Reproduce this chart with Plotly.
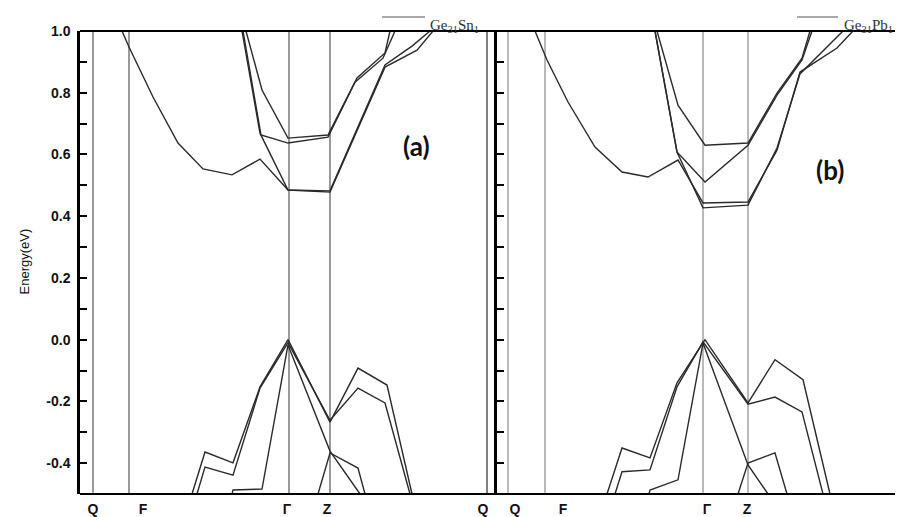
import plotly.graph_objects as go

W, H = 903, 517

# ---------------- data ----------------
kpoint_labels = ["Q", "F", "Γ", "Z", "Q"]

# panel (a) Ge31Sn1 : high-symmetry positions and label positions (k-path units)
a_sym_k = [0, 36, 196, 237, 394]
a_label_k = [0, 50, 194, 234, 390]
# panel (b) Ge31Pb1
b_sym_k = [0, 37, 195, 240, 395]
b_label_k = [7, 55, 199, 239, 395]

# conduction bands, panel (a)
a_c1_k = [29, 36, 60, 85, 110, 139, 167, 195, 237, 292, 324, 340]
a_c1_E = [1.0, 0.948, 0.786, 0.637, 0.553, 0.534, 0.585, 0.485, 0.478, 0.883, 0.938, 1.0]
a_c2_k = [149, 167, 195, 237, 292, 319, 337]
a_c2_E = [1.0, 0.669, 0.485, 0.482, 0.890, 0.951, 1.0]
a_c3_k = [153, 169, 195, 235, 264, 292, 297]
a_c3_E = [1.0, 0.809, 0.653, 0.663, 0.848, 0.929, 1.0]
a_c4_k = [150, 168, 195, 235, 262, 290, 302]
a_c4_E = [1.0, 0.663, 0.637, 0.656, 0.834, 0.912, 1.0]
# valence bands, panel (a)
a_v1_k = [99, 112, 140, 167, 195, 237, 265, 294, 319]
a_v1_E = [-0.5, -0.364, -0.399, -0.153, 0.0, -0.267, -0.092, -0.147, -0.5]
a_v2_k = [104, 112, 140, 167, 195, 237, 265, 292, 317]
a_v2_E = [-0.5, -0.413, -0.439, -0.157, -0.01, -0.261, -0.157, -0.205, -0.5]
a_v3_k = [139, 140, 169, 195, 237, 267]
a_v3_E = [-0.5, -0.487, -0.484, -0.017, -0.361, -0.5]
a_v4_k = [225, 237, 265, 272]
a_v4_E = [-0.5, -0.367, -0.416, -0.5]

# conduction bands, panel (b)
b_c1_k = [27, 39, 60, 87, 114, 140, 170, 195, 240, 269, 292, 329, 345]
b_c1_E = [1.0, 0.906, 0.770, 0.624, 0.543, 0.527, 0.582, 0.443, 0.446, 0.614, 0.867, 0.945, 1.0]
b_c2_k = [147, 169, 195, 240, 269, 292, 335]
b_c2_E = [1.0, 0.608, 0.427, 0.436, 0.621, 0.861, 1.0]
b_c3_k = [149, 170, 197, 240, 269, 294, 302]
b_c3_E = [1.0, 0.760, 0.630, 0.637, 0.799, 0.912, 1.0]
b_c4_k = [147, 169, 197, 240, 269, 294, 304]
b_c4_E = [1.0, 0.608, 0.511, 0.630, 0.792, 0.906, 1.0]
# valence bands, panel (b)
b_v1_k = [99, 114, 142, 169, 197, 240, 267, 295, 322]
b_v1_E = [-0.5, -0.351, -0.383, -0.140, 0.0, -0.205, -0.065, -0.130, -0.5]
b_v2_k = [107, 114, 142, 169, 195, 240, 267, 294, 315]
b_v2_E = [-0.5, -0.428, -0.422, -0.153, -0.007, -0.209, -0.186, -0.234, -0.5]
b_v3_k = [141, 142, 170, 195, 240, 260]
b_v3_E = [-0.5, -0.487, -0.454, -0.011, -0.406, -0.5]
b_v4_k = [230, 240, 267, 279]
b_v4_E = [-0.5, -0.400, -0.367, -0.5]

y_ticks = [-0.4, -0.2, 0.0, 0.2, 0.4, 0.6, 0.8, 1.0]
y_ticktext = ["-0.4", "-0.2", "0.0", "0.2", "0.4", "0.6", "0.8", "1.0"]

# ---------------- figure ----------------
OFF = 8  # page body margin offset


def px(x):
    return (x - OFF) / W


def py(y):
    return 1 - (y - OFF) / H


BAND = dict(color="#2a2a2a", width=1.4)

fig = go.Figure()
a_bands = [(a_c1_k, a_c1_E), (a_c2_k, a_c2_E), (a_c3_k, a_c3_E), (a_c4_k, a_c4_E),
           (a_v1_k, a_v1_E), (a_v2_k, a_v2_E), (a_v3_k, a_v3_E), (a_v4_k, a_v4_E)]
b_bands = [(b_c1_k, b_c1_E), (b_c2_k, b_c2_E), (b_c3_k, b_c3_E), (b_c4_k, b_c4_E),
           (b_v1_k, b_v1_E), (b_v2_k, b_v2_E), (b_v3_k, b_v3_E), (b_v4_k, b_v4_E)]

for k, e in a_bands:
    fig.add_trace(go.Scatter(x=k, y=e, mode="lines", line=BAND, xaxis="x", yaxis="y",
                             showlegend=False, hoverinfo="skip"))
for k, e in b_bands:
    fig.add_trace(go.Scatter(x=k, y=e, mode="lines", line=BAND, xaxis="x2", yaxis="y2",
                             showlegend=False, hoverinfo="skip"))

shapes = []
for k in a_sym_k[:-1]:
    shapes.append(dict(type="line", xref="x", yref="y domain", x0=k, x1=k, y0=0, y1=1,
                       line=dict(color="#9a9a9a", width=2), layer="below"))
shapes.append(dict(type="line", xref="x", yref="y domain", x0=a_sym_k[-1], x1=a_sym_k[-1], y0=0, y1=1,
                   line=dict(color="#555555", width=1.5), layer="below"))
for k in b_sym_k:
    shapes.append(dict(type="line", xref="x2", yref="y2 domain", x0=k, x1=k, y0=0, y1=1,
                       line=dict(color="#8a8a8a", width=1.2), layer="below"))
# frame lines
top, bot = py(31), py(494)
shapes.append(dict(type="line", xref="paper", yref="paper", x0=px(80), x1=1, y0=top, y1=top,
                   line=dict(color="black", width=2.2)))
shapes.append(dict(type="line", xref="paper", yref="paper", x0=px(80), x1=1, y0=bot, y1=bot,
                   line=dict(color="black", width=2.2)))
# legend samples
shapes.append(dict(type="line", xref="paper", yref="paper", x0=px(382), x1=px(425), y0=py(17), y1=py(17),
                   line=dict(color="#555555", width=1.2)))
shapes.append(dict(type="line", xref="paper", yref="paper", x0=px(797), x1=px(838), y0=py(17), y1=py(17),
                   line=dict(color="#555555", width=1.2)))

TICKFONT = dict(family="Liberation Sans, Arial", size=14, color="#111111", weight="bold")

common_y = dict(range=[-0.5, 1.0], domain=[py(494), py(31)], showline=True, linecolor="black",
                linewidth=2.5, ticks="inside", ticklen=7, tickwidth=2, tickcolor="black",
                tickvals=y_ticks, showgrid=False, zeroline=False, automargin=False,
                minor=dict(dtick=0.1, tick0=0, ticks="inside", ticklen=7, tickwidth=2, tickcolor="black",
                           showgrid=False))

fig.update_layout(
    template="none",
    width=W, height=H,
    margin=dict(l=0, r=0, t=0, b=0, pad=0),
    paper_bgcolor="white", plot_bgcolor="white",
    showlegend=False,
    xaxis=dict(domain=[px(80), px(488)], range=[-13, 395], anchor="y", automargin=False,
               tickvals=a_label_k, ticktext=kpoint_labels, ticks="", showgrid=False,
               zeroline=False, showline=False, tickfont=TICKFONT, ticklabelstandoff=5),
    xaxis2=dict(domain=[px(497), px(903)], range=[-11, 395], anchor="y2", automargin=False,
                tickvals=b_label_k, ticktext=kpoint_labels, ticks="", showgrid=False,
                zeroline=False, showline=False, tickfont=TICKFONT, ticklabelstandoff=5),
    yaxis=dict(anchor="x", ticktext=y_ticktext, tickfont=TICKFONT, ticklabelstandoff=4, **common_y),
    yaxis2=dict(anchor="x2", showticklabels=False, **common_y),
    shapes=shapes,
    annotations=[
        dict(text="Energy(eV)", xref="paper", yref="paper", x=px(15), y=py(262), textangle=-90,
             showarrow=False, font=dict(family="Liberation Sans, Arial", size=13, color="#111111")),
        dict(text="(a)", xref="paper", yref="paper", x=px(416), y=py(128), showarrow=False,
             font=dict(family="Lato, Open Sans", size=26, color="#111111", weight="bold")),
        dict(text="(b)", xref="paper", yref="paper", x=px(846), y=py(152), showarrow=False,
             font=dict(family="Lato, Open Sans", size=26, color="#111111", weight="bold")),
        dict(text="Ge<sub>31</sub>Sn<sub>1</sub>", xref="paper", yref="paper", x=px(428), y=py(15),
             xanchor="left", showarrow=False,
             font=dict(family="Liberation Serif, Times New Roman", size=15, color="#333333")),
        dict(text="Ge<sub>31</sub>Pb<sub>1</sub>", xref="paper", yref="paper", x=px(842), y=py(15),
             xanchor="left", showarrow=False,
             font=dict(family="Liberation Serif, Times New Roman", size=15, color="#333333")),
    ],
)

fig.write_html("out.html")
